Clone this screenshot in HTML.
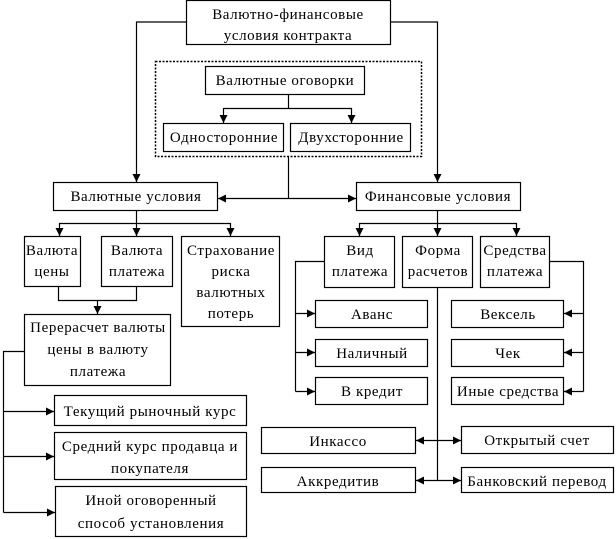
<!DOCTYPE html>
<html><head><meta charset="utf-8"><style>
html,body{margin:0;padding:0;background:#fff;}
svg{display:block;}
text{font-family:"Liberation Serif",serif;font-size:15px;fill:#000;text-anchor:middle;letter-spacing:0.6px;}
</style></head><body>
<svg width="616" height="539" viewBox="0 0 616 539" xmlns="http://www.w3.org/2000/svg">
<defs>
<marker id="a" markerUnits="userSpaceOnUse" markerWidth="10" markerHeight="10" refX="8" refY="4" orient="auto">
<path d="M0,0 L8,4 L0,8 Z" fill="#000"/></marker>
</defs>
<g fill="none" stroke="#000" stroke-width="1.2">
<rect x="186.5" y="0.5" width="204" height="44"/>
<rect x="155.5" y="61.5" width="266" height="95" stroke-dasharray="2,1.5" stroke-width="1.5"/>
<rect x="205.5" y="66.5" width="159" height="28"/>
<rect x="163.5" y="123.5" width="120" height="28"/>
<rect x="290.5" y="123.5" width="120" height="28"/>
<rect x="53.5" y="182.5" width="164" height="28"/>
<rect x="356.5" y="182.5" width="164" height="28"/>
<rect x="24.5" y="236.5" width="56" height="50"/>
<rect x="101.5" y="236.5" width="71" height="50"/>
<rect x="181.5" y="236.5" width="98" height="90"/>
<rect x="324.5" y="236.5" width="70" height="51"/>
<rect x="402.5" y="236.5" width="70" height="51"/>
<rect x="480.5" y="236.5" width="69" height="51"/>
<rect x="24.5" y="314.5" width="146" height="71"/>
<rect x="315.5" y="300.5" width="112" height="27"/>
<rect x="315.5" y="339.5" width="112" height="27"/>
<rect x="315.5" y="377.5" width="112" height="27"/>
<rect x="451.5" y="300.5" width="112" height="27"/>
<rect x="451.5" y="339.5" width="112" height="27"/>
<rect x="451.5" y="377.5" width="112" height="27"/>
<rect x="54.5" y="395.5" width="192" height="30"/>
<rect x="54.5" y="432.5" width="192" height="47"/>
<rect x="55.5" y="486.5" width="191" height="50"/>
<rect x="261.5" y="427.5" width="154" height="26"/>
<rect x="461.5" y="426.5" width="152" height="27"/>
<rect x="261.5" y="467.5" width="154" height="25"/>
<rect x="461.5" y="467.5" width="152" height="25"/>
<polyline points="186,22 136.5,22 136.5,182" marker-end="url(#a)"/>
<polyline points="390,22 437.5,22 437.5,182" marker-end="url(#a)"/>
<line x1="288.5" y1="94" x2="288.5" y2="108.5"/>
<polyline points="288.5,108.5 223.5,108.5 223.5,123" marker-end="url(#a)"/>
<polyline points="288.5,108.5 351.5,108.5 351.5,123" marker-end="url(#a)"/>
<line x1="288.5" y1="156" x2="288.5" y2="198.5"/>
<line x1="288.5" y1="198.5" x2="218" y2="198.5" marker-end="url(#a)"/>
<line x1="288.5" y1="198.5" x2="356" y2="198.5" marker-end="url(#a)"/>
<line x1="136.5" y1="210" x2="136.5" y2="223.5"/>
<polyline points="136.5,223.5 59.5,223.5 59.5,236" marker-end="url(#a)"/>
<line x1="136.5" y1="223.5" x2="136.5" y2="236" marker-end="url(#a)"/>
<polyline points="136.5,223.5 230.5,223.5 230.5,236" marker-end="url(#a)"/>
<line x1="437.5" y1="210" x2="437.5" y2="223.5"/>
<polyline points="437.5,223.5 359.5,223.5 359.5,236" marker-end="url(#a)"/>
<line x1="437.5" y1="223.5" x2="437.5" y2="236" marker-end="url(#a)"/>
<polyline points="437.5,223.5 516.5,223.5 516.5,236" marker-end="url(#a)"/>
<polyline points="58.5,286 58.5,300.5 136.5,300.5 136.5,286"/>
<line x1="97.5" y1="300.5" x2="97.5" y2="314" marker-end="url(#a)"/>
<polyline points="24,351.5 3.5,351.5 3.5,512.5"/>
<line x1="3.5" y1="411.5" x2="54" y2="411.5" marker-end="url(#a)"/>
<line x1="3.5" y1="456.5" x2="54" y2="456.5" marker-end="url(#a)"/>
<line x1="3.5" y1="512.5" x2="55" y2="512.5" marker-end="url(#a)"/>
<polyline points="324,261.5 295.5,261.5 295.5,391.5"/>
<line x1="295.5" y1="313.5" x2="315" y2="313.5" marker-end="url(#a)"/>
<line x1="295.5" y1="352.5" x2="315" y2="352.5" marker-end="url(#a)"/>
<line x1="295.5" y1="391.5" x2="315" y2="391.5" marker-end="url(#a)"/>
<polyline points="550,261.5 583.5,261.5 583.5,391.5"/>
<line x1="583.5" y1="313.5" x2="564" y2="313.5" marker-end="url(#a)"/>
<line x1="583.5" y1="352.5" x2="564" y2="352.5" marker-end="url(#a)"/>
<line x1="583.5" y1="391.5" x2="564" y2="391.5" marker-end="url(#a)"/>
<line x1="437.5" y1="288" x2="437.5" y2="480.5"/>
<line x1="437.5" y1="440.5" x2="416" y2="440.5" marker-end="url(#a)"/>
<line x1="437.5" y1="440.5" x2="461" y2="440.5" marker-end="url(#a)"/>
<line x1="437.5" y1="480.5" x2="416" y2="480.5" marker-end="url(#a)"/>
<line x1="437.5" y1="480.5" x2="461" y2="480.5" marker-end="url(#a)"/>
</g>
<text x="288" y="19">Валютно-финансовые</text>
<text x="288" y="40">условия  контракта</text>
<text x="285" y="85">Валютные оговорки</text>
<text x="224" y="142">Односторонние</text>
<text x="351" y="142">Двухсторонние</text>
<text x="136" y="201">Валютные условия</text>
<text x="438" y="201">Финансовые условия</text>
<text x="52" y="255">Валюта</text><text x="52" y="276">цены</text>
<text x="137" y="255">Валюта</text><text x="137" y="276">платежа</text>
<text x="231" y="255">Страхование</text><text x="231" y="276">риска</text>
<text x="231" y="297">валютных</text><text x="231" y="318">потерь</text>
<text x="360" y="255">Вид</text><text x="360" y="276">платежа</text>
<text x="438" y="255">Форма</text><text x="438" y="276">расчетов</text>
<text x="515" y="255">Средства</text><text x="515" y="276">платежа</text>
<text x="98" y="332">Перерасчет валюты</text>
<text x="98" y="354">цены в валюту</text>
<text x="98" y="376">платежа</text>
<text x="372" y="319">Аванс</text>
<text x="372" y="358">Наличный</text>
<text x="372" y="396">В кредит</text>
<text x="508" y="319">Вексель</text>
<text x="508" y="358">Чек</text>
<text x="508" y="396">Иные средства</text>
<text x="150" y="416">Текущий рыночный курс</text>
<text x="150" y="451">Средний курс продавца и</text>
<text x="150" y="473">покупателя</text>
<text x="151" y="505">Иной оговоренный</text>
<text x="151" y="528">способ установления</text>
<text x="338" y="446">Инкассо</text>
<text x="537" y="445">Открытый счет</text>
<text x="338" y="486">Аккредитив</text>
<text x="537" y="486">Банковский перевод</text>
</svg>
</body></html>
